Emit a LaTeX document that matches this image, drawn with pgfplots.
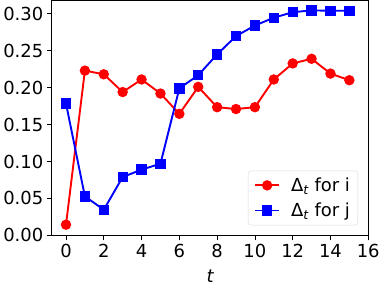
\documentclass[border=0pt]{standalone}
\usepackage{fontspec}
\setmainfont{DejaVu Sans}
\usepackage{pgfplots}
\pgfplotsset{compat=1.18}
\begin{document}
\begin{tikzpicture}
\begin{axis}[
  scale only axis,
  width=316bp, height=234.7bp,
  xmin=-0.75, xmax=16,
  ymin=0, ymax=0.318,
  xtick={0,2,...,16},
  ytick={0,0.05,0.10,0.15,0.20,0.25,0.30},
  /pgf/number format/assume math mode=true,
  yticklabel style={/pgf/number format/fixed,/pgf/number format/fixed zerofill,/pgf/number format/precision=2},
  scaled y ticks=false,
  tick align=outside,
  tick pos=left,
  major tick length=5bp,
  every tick/.style={black, line width=0.8pt},
  axis line style={line width=0.8pt},
  font=\fontsize{18}{21}\selectfont,
  xlabel={\itshape t},
  xlabel style={yshift=-6pt},
  legend style={at={(0.968,0.043)}, anchor=south east, draw=black!15, rounded corners=3pt, font=\fontsize{18}{21}\selectfont, row sep=6bp, inner xsep=6bp, inner ysep=5bp},
  legend cell align=left,
  legend image code/.code={\draw[#1] (0bp,0bp) -- (24bp,0bp); \draw[#1, only marks] plot coordinates {(12bp,0bp)}; \path (33bp,0bp);},
]
\addplot[red, line width=1.9bp, mark=*, mark size=4.2bp, mark options={solid}] coordinates {
(0,0.0145) (1,0.223) (2,0.218) (3,0.194) (4,0.211) (5,0.192) (6,0.1645) (7,0.201)
(8,0.1735) (9,0.171) (10,0.1735) (11,0.211) (12,0.2327) (13,0.239) (14,0.219) (15,0.21)};
\addlegendentry{Δ\textsubscript{\itshape t} for i}
\addplot[blue, line width=1.9bp, mark=square*, mark size=4.2bp, mark options={solid}] coordinates {
(0,0.1785) (1,0.0528) (2,0.0348) (3,0.079) (4,0.089) (5,0.097) (6,0.199) (7,0.2168)
(8,0.245) (9,0.2697) (10,0.284) (11,0.2946) (12,0.302) (13,0.3045) (14,0.304) (15,0.304)};
\addlegendentry{Δ\textsubscript{\itshape t} for j}
\end{axis}
\end{tikzpicture}
\end{document}
